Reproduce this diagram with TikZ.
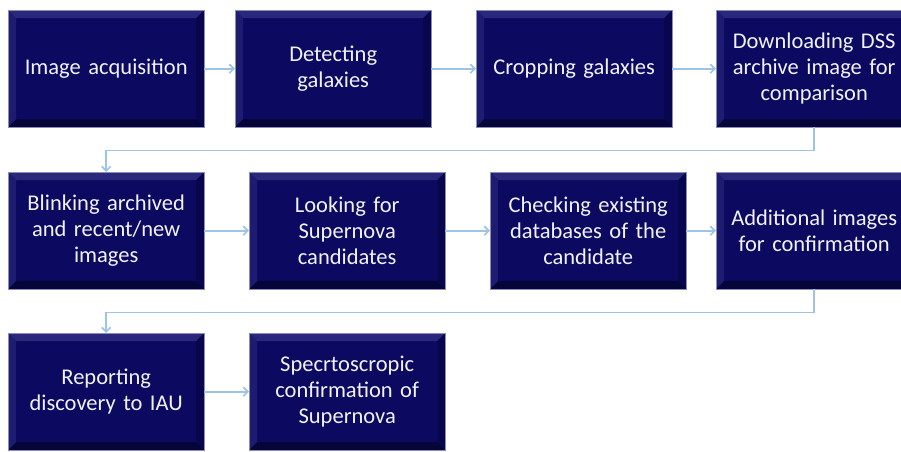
\documentclass[tikz,border=0pt]{standalone}
\usepackage{fontspec}
\setmainfont{Carlito}
\usetikzlibrary{arrows.meta,positioning,calc}
\definecolor{boxbase}{RGB}{11,9,96}
\definecolor{boxtop}{RGB}{42,40,122}
\definecolor{boxleft}{RGB}{30,28,112}
\definecolor{boxright}{RGB}{8,7,78}
\definecolor{boxbottom}{RGB}{5,5,58}
\definecolor{boxedge}{RGB}{140,140,185}
\definecolor{arrowblue}{RGB}{157,195,230}
\tikzset{
  stepbox/.style={
    anchor=north west, minimum width=196pt, minimum height=117pt,
    inner sep=0pt, text width=190pt, align=center, text={rgb,255:red,242;green,242;blue,248},
    font=\fontsize{22.5}{26}\selectfont,
    fill=boxbase, draw=boxedge, line width=0.4pt,
    path picture={
      \def\bv{8pt}
      \coordinate (NW) at (path picture bounding box.north west);
      \coordinate (NE) at (path picture bounding box.north east);
      \coordinate (SW) at (path picture bounding box.south west);
      \coordinate (SE) at (path picture bounding box.south east);
      \fill[boxtop] (NW) -- (NE) -- ([xshift=-\bv,yshift=-\bv]NE) -- ([xshift=\bv,yshift=-\bv]NW) -- cycle;
      \fill[boxleft] (NW) -- ([xshift=\bv,yshift=-\bv]NW) -- ([xshift=\bv,yshift=\bv]SW) -- (SW) -- cycle;
      \fill[boxright] (NE) -- ([xshift=-\bv,yshift=-\bv]NE) -- ([xshift=-\bv,yshift=\bv]SE) -- (SE) -- cycle;
      \fill[boxbottom] (SW) -- ([xshift=\bv,yshift=\bv]SW) -- ([xshift=-\bv,yshift=\bv]SE) -- (SE) -- cycle;
    }
  },
  flow/.style={draw=arrowblue, line width=1.7pt, -{Straight Barb[length=4.5pt,width=9pt]}}
}
\begin{document}
\begin{tikzpicture}[x=1pt,y=-1pt]
\useasboundingbox (0,0) rectangle (901,451);
\clip (0,0) rectangle (901,451);
% row 1
\node[stepbox] (a) at (8,10) {Image acquisition};
\node[stepbox] (b) at (235,10) {Detecting\\galaxies};
\node[stepbox] (c) at (476,10) {Cropping galaxies};
\node[stepbox] (d) at (716,10) {Downloading DSS\\archive image for\\comparison};
% row 2
\node[stepbox] (e) at (8,172) {Blinking archived\\and recent/new\\images};
\node[stepbox] (f) at (249,172) {Looking for\\Supernova\\candidates};
\node[stepbox] (g) at (490,172) {Checking existing\\databases of the\\candidate};
\node[stepbox] (h) at (716,172) {Additional images\\for confirmation};
% row 3
\node[stepbox] (i) at (8,333) {Reporting\\discovery to IAU};
\node[stepbox] (j) at (249,333) {Specrtoscropic\\confirmation of\\Supernova};
% connectors
\draw[flow] (a.east) -- (b.west);
\draw[flow] (b.east) -- (c.west);
\draw[flow] (c.east) -- (d.west);
\draw[flow] (d.south) -- ++(0,23) -| (e.north);
\draw[flow] (e.east) -- (f.west);
\draw[flow] (f.east) -- (g.west);
\draw[flow] (g.east) -- (h.west);
\draw[flow] (h.south) -- ++(0,23) -| (i.north);
\draw[flow] (i.east) -- (j.west);
\end{tikzpicture}
\end{document}
